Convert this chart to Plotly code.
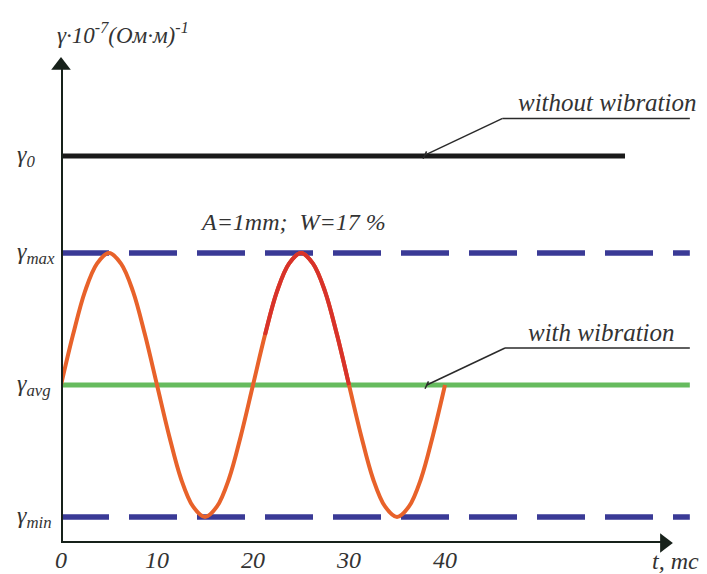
import plotly.graph_objects as go

# ---- data ----
t_wave = [0, 1.25, 2.5, 3.75, 5, 6.25, 7.5, 8.75, 10, 11.25, 12.5, 13.75, 15, 16.25, 17.5, 18.75,
          20, 21.25, 22.5, 23.75, 25, 26.25, 27.5, 28.75, 30, 31.25, 32.5, 33.75, 35, 36.25, 37.5, 38.75, 40]
g_wave = [2.0, 2.38, 2.71, 2.92, 3.0, 2.92, 2.71, 2.38, 2.0, 1.62, 1.29, 1.08, 1.0, 1.08, 1.29, 1.62,
          2.0, 2.38, 2.71, 2.92, 3.0, 2.92, 2.71, 2.38, 2.0, 1.62, 1.29, 1.08, 1.0, 1.08, 1.29, 1.62, 2.0]
red_start, red_end = 21.25, 30  # part of the wave drawn in red

level_names = ["γ<sub>0</sub>", "γ<sub>max</sub>", "γ<sub>avg</sub>", "γ<sub>min</sub>"]
level_values = [3.735, 3.0, 2.0, 1.0]
level_t_end = [58.75, 65.5, 65.5, 65.5]

x_ticks = [0, 10, 20, 30, 40]
x_tick_labels = ["0", "10", "20", "30", "40"]

FONT = "Times New Roman"
TXT = "#333333"
AX = "#17211a"

fig = go.Figure()
fig.update_layout(template="none")

# dashed γmax / γmin lines
for i in (1, 3):
    fig.add_trace(go.Scatter(x=[0, level_t_end[i]], y=[level_values[i]] * 2, mode="lines",
                             line=dict(color="#3a3a96", width=5.5, dash="48px,20px"),
                             hoverinfo="skip", showlegend=False))
# γavg green
fig.add_trace(go.Scatter(x=[0, level_t_end[2]], y=[level_values[2]] * 2, mode="lines",
                         line=dict(color="#66bb5e", width=5), hoverinfo="skip", showlegend=False))
# γ0 black
fig.add_trace(go.Scatter(x=[0, level_t_end[0]], y=[level_values[0]] * 2, mode="lines",
                         line=dict(color="#1a1a1a", width=5), hoverinfo="skip", showlegend=False))
# wave
fig.add_trace(go.Scatter(x=t_wave, y=g_wave, mode="lines",
                         line=dict(color="#e8622a", width=4, shape="spline"),
                         hoverinfo="skip", showlegend=False))
red_t = [t for t in t_wave if red_start <= t <= red_end]
red_g = [g for t, g in zip(t_wave, g_wave) if red_start <= t <= red_end]
fig.add_trace(go.Scatter(x=red_t, y=red_g, mode="lines",
                         line=dict(color="#d8322a", width=4, shape="spline"),
                         hoverinfo="skip", showlegend=False))

# axis arrowheads (decoration)
fig.add_trace(go.Scatter(x=[0], y=[4.42], mode="markers", cliponaxis=False,
                         marker=dict(symbol="triangle-up", size=17, color=AX, line=dict(width=0)),
                         hoverinfo="skip", showlegend=False))
fig.add_trace(go.Scatter(x=[62.85], y=[0.803], mode="markers", cliponaxis=False,
                         marker=dict(symbol="triangle-right", size=17, color=AX, line=dict(width=0)),
                         hoverinfo="skip", showlegend=False))

ann = []
for name, val in zip(level_names, level_values):
    ann.append(dict(x=-0.071, y=val, xref="paper", yref="y", xanchor="left", yanchor="middle",
                    text=f"<i>{name}</i>", showarrow=False, font=dict(family=FONT, size=24, color=TXT)))
ann.append(dict(x=-0.010, y=4.667, xref="paper", yref="y", xanchor="left", yanchor="middle",
                text="<i>γ·10<sup>-7</sup>(Ом·м)<sup>-1</sup></i>", showarrow=False,
                font=dict(family=FONT, size=23, color=TXT)))
ann.append(dict(x=61.4, y=-0.033, xref="x", yref="paper", xanchor="left", yanchor="middle",
                text="<i>t, mc</i>", showarrow=False, font=dict(family=FONT, size=24, color=TXT)))
ann.append(dict(x=24.2, y=3.235, xref="x", yref="y", xanchor="center", yanchor="middle",
                text="<i>A=1mm;  W=17 %</i>", showarrow=False, font=dict(family=FONT, size=24, color=TXT)))
ann.append(dict(x=56.9, y=4.02, xref="x", yref="y", xanchor="center", yanchor="bottom",
                text="<i>without wibration</i>", showarrow=False, font=dict(family=FONT, size=25, color=TXT)))
ann.append(dict(x=56.3, y=2.28, xref="x", yref="y", xanchor="center", yanchor="bottom",
                text="<i>with wibration</i>", showarrow=False, font=dict(family=FONT, size=25, color=TXT)))
fig.update_layout(annotations=ann)

LC = "#2a2a2a"
shapes = [
    dict(type="line", x0=0, y0=0.803, x1=0, y1=4.40, xref="x", yref="y", line=dict(color=AX, width=4)),
    dict(type="line", x0=0, y0=0.803, x1=63.0, y1=0.803, xref="x", yref="y", line=dict(color=AX, width=4)),
]
for (t0, g0, t1, g1) in [(37.9, 3.742, 46.0, 4.02), (38.1, 2.0, 46.25, 2.28)]:
    shapes.append(dict(type="line", x0=t0, y0=g0, x1=t1, y1=g1, xref="x", yref="y",
                       line=dict(color=LC, width=1.5)))
    shapes.append(dict(type="line", x0=t1, y0=g1, x1=65.5, y1=g1, xref="x", yref="y",
                       line=dict(color=LC, width=1.5)))
    shapes.append(dict(type="line", x0=t0 - 0.18, y0=g0 - 0.028, x1=t0 + 0.18, y1=g0 + 0.028,
                       xref="x", yref="y", line=dict(color=LC, width=1.5)))
fig.update_layout(shapes=shapes)

fig.update_layout(
    width=707, height=574,
    margin=dict(l=61, r=0, t=0, b=31),
    plot_bgcolor="white", paper_bgcolor="white",
    font=dict(family=FONT, color=TXT),
    xaxis=dict(range=[0, 67.29], showgrid=False, zeroline=False, showline=False,
               tickmode="array", tickvals=x_ticks, ticktext=[f"<i>{s}</i>" for s in x_tick_labels],
               ticks="", ticklen=0,
               tickfont=dict(family=FONT, size=24, color=TXT)),
    yaxis=dict(range=[0.803, 4.917], showgrid=False, zeroline=False, showline=False,
               showticklabels=False, ticks=""),
)

fig.write_html("out.html")
